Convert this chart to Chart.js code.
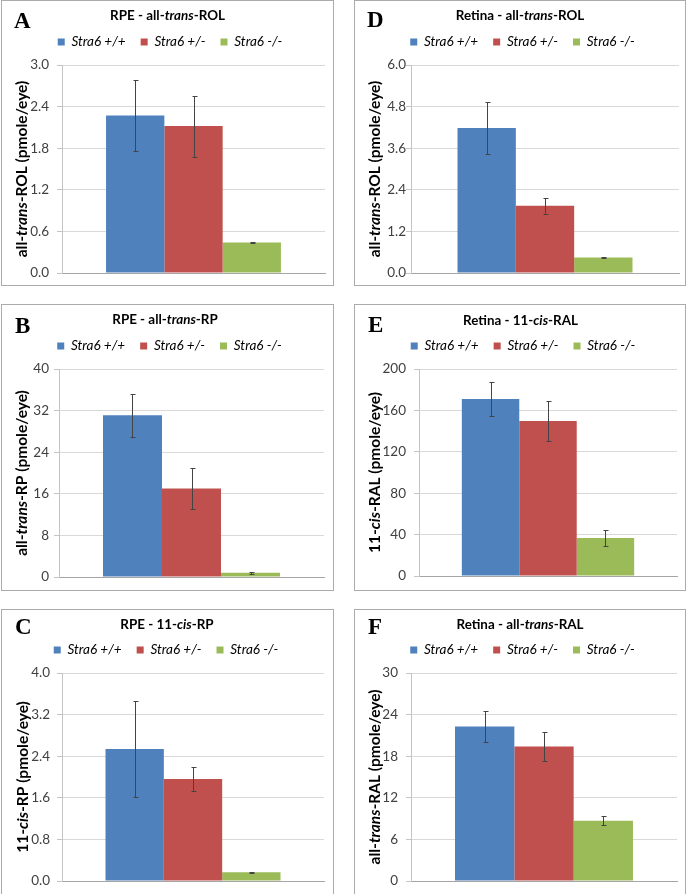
<!DOCTYPE html>
<html>
<head>
<meta charset="utf-8">
<script src="https://cdn.jsdelivr.net/npm/chart.js@4.4.1/dist/chart.umd.min.js"></script>
<style>
  html, body { margin: 0; padding: 0; background: #fff; }
  body { width: 687px; height: 894px; position: relative; overflow: hidden; }
  .panel { position: absolute; border: 1px solid #ababab; background: #fff; }
  .panel canvas { display: block; }
</style>
</head>
<body>
<div class="panel" style="left:1px;top:0px;width:331px;height:284px"><canvas id="chartA"></canvas></div>
<div class="panel" style="left:354px;top:0px;width:330px;height:284px"><canvas id="chartD"></canvas></div>
<div class="panel" style="left:1px;top:304px;width:331px;height:285px"><canvas id="chartB"></canvas></div>
<div class="panel" style="left:354px;top:304px;width:330px;height:285px"><canvas id="chartE"></canvas></div>
<div class="panel" style="left:1px;top:609px;width:331px;height:285px"><canvas id="chartC"></canvas></div>
<div class="panel" style="left:354px;top:609px;width:330px;height:285px"><canvas id="chartF"></canvas></div>
<script>
// genotype groups (legend)
const groups = ['Stra6 +/+', 'Stra6 +/-', 'Stra6 -/-'];

// A - RPE all-trans-ROL
const rpeRolMean = [2.27, 2.12, 0.44];
const rpeRolErr = [0.51, 0.44, 0.01];
const rpeRolTicks = ['0.0', '0.6', '1.2', '1.8', '2.4', '3.0'];

// B - RPE all-trans-RP
const rpeRpMean = [31.1, 17.0, 0.8];
const rpeRpErr = [4.1, 3.95, 0.15];
const rpeRpTicks = ['0', '8', '16', '24', '32', '40'];

// C - RPE 11-cis-RP
const rpeCisRpMean = [2.54, 1.96, 0.17];
const rpeCisRpErr = [0.93, 0.23, 0.01];
const rpeCisRpTicks = ['0.0', '0.8', '1.6', '2.4', '3.2', '4.0'];

// D - Retina all-trans-ROL
const retRolMean = [4.18, 1.94, 0.45];
const retRolErr = [0.76, 0.23, 0.01];
const retRolTicks = ['0.0', '1.2', '2.4', '3.6', '4.8', '6.0'];

// E - Retina 11-cis-RAL
const retCisRalMean = [171, 149.7, 36.8];
const retCisRalErr = [16.2, 19.5, 7.6];
const retCisRalTicks = ['0', '40', '80', '120', '160', '200'];

// F - Retina all-trans-RAL
const retRalMean = [22.3, 19.4, 8.7];
const retRalErr = [2.25, 2.15, 0.65];
const retRalTicks = ['0', '6', '12', '18', '24', '30'];

const barColors = ['#4f81bd', '#c0504d', '#9bbb59'];
const FONT = 'Lato, "Open Sans", sans-serif';

// draw a line of text where some pieces are italic, centred on (x, y)
function drawRich(ctx, parts, x, y, size, vertical) {
    ctx.save();
    ctx.translate(x, y);
    if (vertical) ctx.rotate(-Math.PI / 2);
    const fonts = parts.map(p => (p[1] ? 'italic ' : '') + 'bold ' + size + 'px ' + FONT);
    let total = 0;
    const widths = parts.map((p, i) => {
        ctx.font = fonts[i];
        const w = ctx.measureText(p[0]).width;
        total += w;
        return w;
    });
    let cx = -total / 2;
    ctx.textBaseline = 'middle';
    ctx.textAlign = 'left';
    ctx.fillStyle = '#000';
    parts.forEach((p, i) => {
        ctx.font = fonts[i];
        ctx.fillText(p[0], cx, 0);
        cx += widths[i];
    });
    ctx.restore();
}

const panelText = {
    id: 'panelText',
    afterDraw(chart, args, opts) {
        const ctx = chart.ctx;
        const lay = opts.lay;
        // panel letter
        ctx.save();
        ctx.font = 'bold 23px "Liberation Serif", "Times New Roman", serif';
        ctx.fillStyle = '#000';
        ctx.textBaseline = 'alphabetic';
        ctx.fillText(opts.letter, lay.letterX, lay.letterY);
        ctx.restore();
        drawRich(ctx, opts.title, lay.titleX, lay.titleY, 13.4, false);
        const area = chart.chartArea;
        drawRich(ctx, opts.yTitle, lay.yTitleX, (area.top + area.bottom) / 2, 15.5, true);
    }
};

const errorBars = {
    id: 'errorBars',
    afterDatasetsDraw(chart, args, opts) {
        const ctx = chart.ctx;
        const y = chart.scales.y;
        ctx.save();
        ctx.strokeStyle = '#444';
        ctx.lineWidth = 1;
        chart.data.datasets.forEach((ds, i) => {
            const bar = chart.getDatasetMeta(i).data[0];
            const v = ds.data[0], e = opts.errors[i];
            const x = Math.round(bar.x) + 0.5;
            const top = Math.round(y.getPixelForValue(v + e)) + 0.5;
            const bot = Math.round(y.getPixelForValue(Math.max(v - e, 0))) + 0.5;
            ctx.beginPath();
            ctx.moveTo(x, top); ctx.lineTo(x, bot);
            ctx.moveTo(x - 2, top); ctx.lineTo(x + 3, top);
            ctx.moveTo(x - 2, bot); ctx.lineTo(x + 3, bot);
            ctx.stroke();
        });
        ctx.restore();
    }
};

function makePanel(canvasId, w, h, letter, title, yTitle, means, errs, tickLabels, lay) {
    const canvas = document.getElementById(canvasId);
    canvas.width = w;
    canvas.height = h;
    const tickValues = tickLabels.map(parseFloat);
    const legendFont = 13.5;
    const legendPad = 15;
    // Chart.js legend height = item height + padding + 10
    const legendHeight = legendFont + legendPad + 10;
    // space between legend and plot, so the legend row sits 23px above the plot
    const spacer = 23 - (legendFont / 2 + 10);
    const padLeft = 2 * lay.legendX - lay.plotRight;

    return new Chart(canvas, {
        type: 'bar',
        data: {
            labels: [''],
            datasets: groups.map((g, i) => ({
                label: g,
                data: [means[i]],
                xAxisID: 'x',
                yAxisID: 'y',
                backgroundColor: barColors[i],
                borderWidth: 0
            }))
        },
        options: {
            responsive: false,
            animation: false,
            devicePixelRatio: 1,
            categoryPercentage: lay.barPct,
            barPercentage: 1,
            layout: {
                padding: {
                    top: lay.plotTop - legendHeight - spacer,
                    left: padLeft,
                    right: w - lay.plotRight,
                    bottom: h - lay.plotBottom
                }
            },
            scales: {
                x: {
                    ticks: { display: false },
                    grid: { display: false, drawTicks: false },
                    border: { display: true, color: '#a6a6a6' },
                    afterFit: s => { s.height = 0; }
                },
                gap: {
                    type: 'category',
                    position: 'top',
                    ticks: { display: false },
                    grid: { display: false, drawTicks: false },
                    border: { display: false },
                    afterFit: s => { s.height = spacer; }
                },
                y: {
                    min: tickValues[0],
                    max: tickValues[tickValues.length - 1],
                    afterFit: s => { s.width = lay.plotLeft - padLeft; },
                    afterBuildTicks: s => { s.ticks = tickValues.map(v => ({ value: v })); },
                    ticks: {
                        callback: (v, i) => tickLabels[i],
                        padding: lay.tickGap - 5,
                        color: '#404040',
                        font: { family: FONT, size: 13.5, lineHeight: 0.5 }
                    },
                    grid: { color: '#d9d9d9', tickLength: 5, tickColor: '#c4c4c4' },
                    border: { display: true, color: '#c4c4c4' }
                }
            },
            plugins: {
                legend: {
                    position: 'top',
                    labels: {
                        boxWidth: 7,
                        boxHeight: 7,
                        padding: legendPad,
                        color: '#000',
                        font: { family: FONT, size: legendFont, style: 'italic' }
                    }
                },
                tooltip: { enabled: false },
                panelText: { letter, title, yTitle, lay },
                errorBars: { errors: errs }
            }
        },
        plugins: [panelText, errorBars]
    });
}

makePanel('chartA', 331, 284, 'A',
    [['RPE - all-', false], ['trans', true], ['-ROL', false]],
    [['all-', false], ['trans', true], ['-ROL (pmole/eye)', false]],
    rpeRolMean, rpeRolErr, rpeRolTicks,
    { plotLeft: 60, plotRight: 323, plotTop: 64, plotBottom: 272, legendX: 168, titleX: 165.5, titleY: 15,
      yTitleX: 20, tickGap: 13, barPct: 0.665, letterX: 12, letterY: 27 });

makePanel('chartD', 330, 284, 'D',
    [['Retina - all-', false], ['trans', true], ['-ROL', false]],
    [['all-', false], ['trans', true], ['-ROL (pmole/eye)', false]],
    retRolMean, retRolErr, retRolTicks,
    { plotLeft: 56, plotRight: 324, plotTop: 64, plotBottom: 272, legendX: 167.5, titleX: 165, titleY: 15,
      yTitleX: 20, tickGap: 5, barPct: 0.653, letterX: 12, letterY: 26 });

makePanel('chartB', 331, 285, 'B',
    [['RPE - all-', false], ['trans', true], ['-RP', false]],
    [['all-', false], ['trans', true], ['-RP (pmole/eye)', false]],
    rpeRpMean, rpeRpErr, rpeRpTicks,
    { plotLeft: 57, plotRight: 322, plotTop: 64, plotBottom: 272, legendX: 167.5, titleX: 163, titleY: 15,
      yTitleX: 20, tickGap: 10, barPct: 0.668, letterX: 13, letterY: 28 });

makePanel('chartE', 330, 285, 'E',
    [['Retina - 11-', false], ['cis', true], ['-RAL', false]],
    [['11-', false], ['cis', true], ['-RAL (pmole/eye)', false]],
    retCisRalMean, retCisRalErr, retCisRalTicks,
    { plotLeft: 64, plotRight: 322, plotTop: 64, plotBottom: 271, legendX: 168, titleX: 165.5, titleY: 16,
      yTitleX: 20, tickGap: 13, barPct: 0.668, letterX: 13, letterY: 27 });

makePanel('chartC', 331, 285, 'C',
    [['RPE - 11-', false], ['cis', true], ['-RP', false]],
    [['11-', false], ['cis', true], ['-RP (pmole/eye)', false]],
    rpeCisRpMean, rpeCisRpErr, rpeCisRpTicks,
    { plotLeft: 60, plotRight: 322, plotTop: 63, plotBottom: 271, legendX: 164, titleX: 165, titleY: 15,
      yTitleX: 21, tickGap: 12, barPct: 0.668, letterX: 13, letterY: 24 });

makePanel('chartF', 330, 285, 'F',
    [['Retina - all-', false], ['trans', true], ['-RAL', false]],
    [['all-', false], ['trans', true], ['-RAL (pmole/eye)', false]],
    retRalMean, retRalErr, retRalTicks,
    { plotLeft: 56, plotRight: 322, plotTop: 63, plotBottom: 271, legendX: 167.5, titleX: 165, titleY: 15,
      yTitleX: 20, tickGap: 13, barPct: 0.669, letterX: 13, letterY: 24 });
</script>
</body>
</html>
